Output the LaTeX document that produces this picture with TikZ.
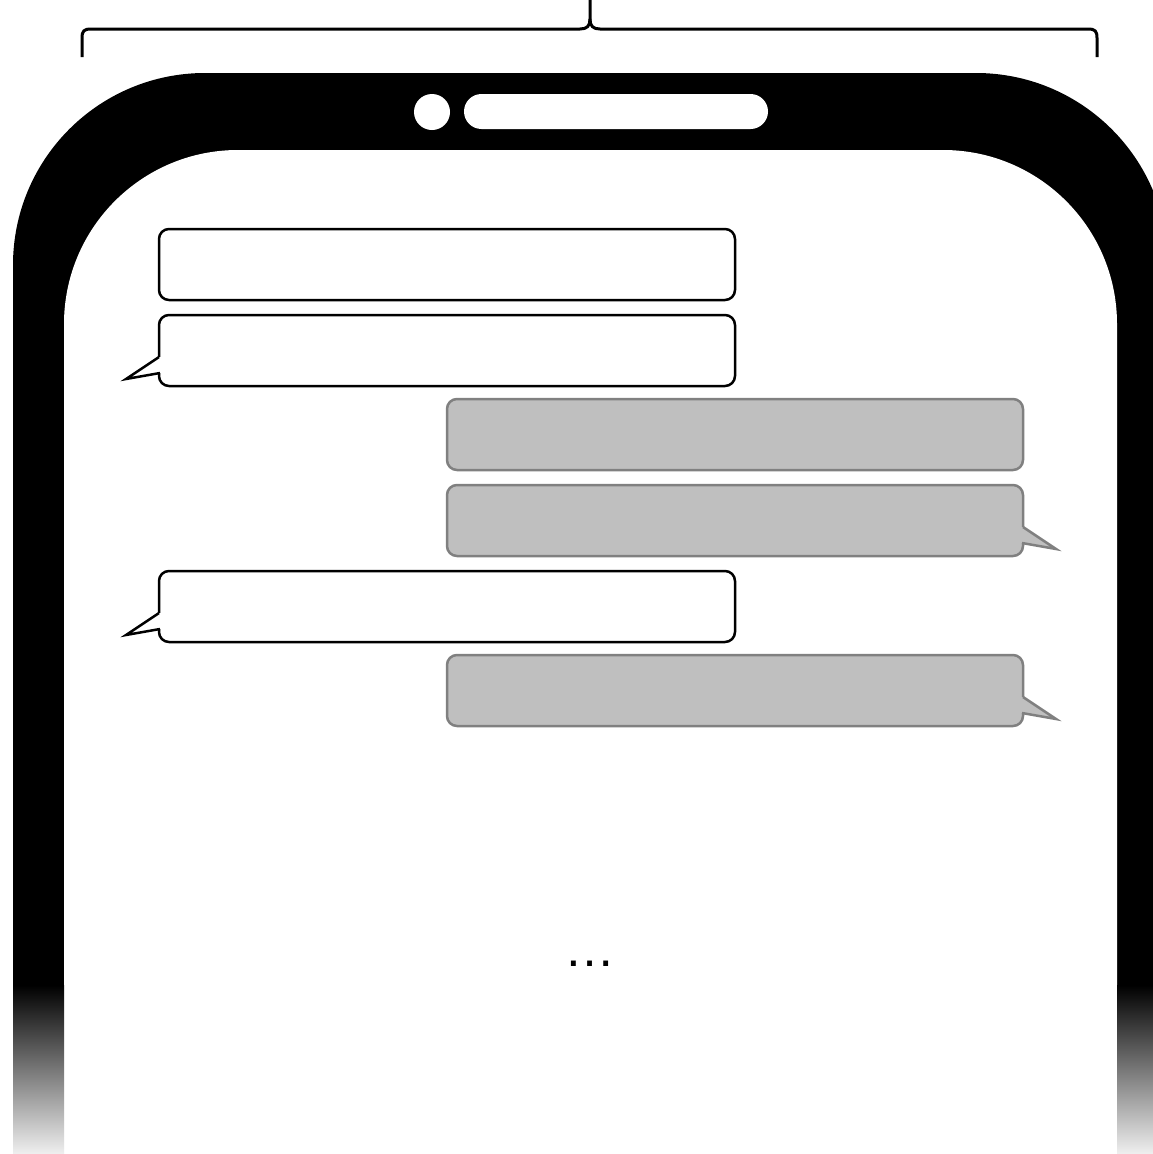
\documentclass[tikz,border=0pt]{standalone}
\usepackage{fontspec}
\newfontfamily\dotsfont{Liberation Sans}
\definecolor{bubblegray}{HTML}{BFBFBF}
\definecolor{bubbleedge}{HTML}{808080}
\tikzset{
  inbubble/.style={draw=black,fill=white,line width=2.5pt,rounded corners=10pt,
    minimum width=576pt,minimum height=71pt,inner sep=0pt,outer sep=0pt},
  outbubble/.style={inbubble,draw=bubbleedge,fill=bubblegray},
  bracket/.style={line width=3pt,line cap=butt,line join=round}
}
\begin{document}
\begin{tikzpicture}[x=1pt,y=-1pt]
\useasboundingbox (0,0) rectangle (1153,1154);
\clip (0,0) rectangle (1153,1154);
\fill[white] (0,0) rectangle (1153,1154);
% phone body
\fill[black,rounded corners=192pt] (13,73) rectangle (1168,1400);
\fill[white,rounded corners=174pt] (64,150) rectangle (1117,1400);
\shade[top color=black,bottom color=black!6] (13,985) rectangle (64,1154);
\shade[top color=black,bottom color=black!6] (1117,985) rectangle (1168,1154);
% camera and speaker
\fill[white] (432,112) circle[radius=18];
\fill[white,rounded corners=17.5pt] (464,94) rectangle (768,129);
% brace over the phone
\draw[bracket] (82,57)--(82,38) .. controls (82,31) and (84,29) .. (91,29)--(580,29)
  .. controls (587,29) and (590,26) .. (590,19)--(590,0);
\draw[bracket] (1097,57)--(1097,38) .. controls (1097,31) and (1095,29) .. (1088,29)--(600,29)
  .. controls (593,29) and (590,26) .. (590,19);
% messages
\node[inbubble] (in1) at (447,264.5) {};
\node[inbubble] (in2) at (447,350.5) {};
\node[outbubble] (out1) at (735,434.5) {};
\node[outbubble] (out2) at (735,520.5) {};
\node[inbubble] (in3) at (447,606.5) {};
\node[outbubble] (out3) at (735,690.5) {};
\foreach \b in {in2,in3}{
  \fill[white] ([shift={(0,6.5)}]\b.west)--([shift={(-33,28.5)}]\b.west)--([shift={(1,22.5)}]\b.west)
    --([shift={(2.5,22.5)}]\b.west)--([shift={(2.5,6.5)}]\b.west)--cycle;
  \draw[line width=2.5pt,line join=miter] ([shift={(0,6.5)}]\b.west)--([shift={(-33,28.5)}]\b.west)
    --([shift={(1,22.5)}]\b.west);
}
\foreach \b in {out2,out3}{
  \fill[bubblegray] ([shift={(0,6.5)}]\b.east)--([shift={(33,28.5)}]\b.east)--([shift={(-1,22.5)}]\b.east)
    --([shift={(-2.5,22.5)}]\b.east)--([shift={(-2.5,6.5)}]\b.east)--cycle;
  \draw[bubbleedge,line width=2.5pt,line join=miter] ([shift={(0,6.5)}]\b.east)--([shift={(33,28.5)}]\b.east)
    --([shift={(-1,22.5)}]\b.east);
}
\node[font=\dotsfont\fontsize{51}{55}\selectfont,inner sep=0pt] (more) at (590,964) {…};
\end{tikzpicture}
\end{document}
